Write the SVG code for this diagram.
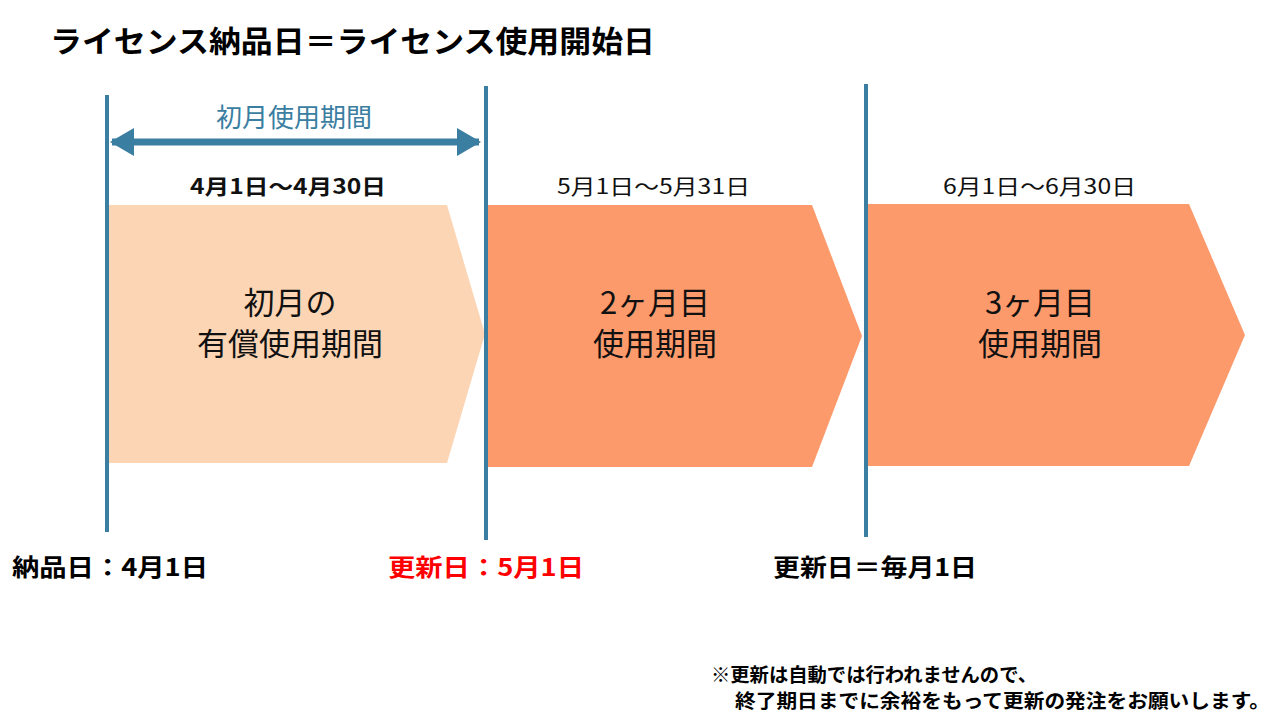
<svg xmlns="http://www.w3.org/2000/svg" width="1280" height="720" viewBox="0 0 1280 720">
<style>
text{font-family:"Noto Sans CJK JP","Noto Sans",sans-serif;}
.b{font-weight:bold;}
.vl{stroke:#3A7EA1;stroke-width:4;}
.big{font-size:31px;fill:#111;text-anchor:middle;}
.date{font-size:21px;fill:#111;}
.lab{font-size:24px;font-weight:bold;}
</style>
<defs>
<marker id="ah" viewBox="0 0 24 28" refX="22" refY="14" markerWidth="24" markerHeight="28" markerUnits="userSpaceOnUse" orient="auto-start-reverse">
<path d="M0,0 L24,14 L0,28 Z" fill="#3A7EA1"/>
</marker>
</defs>
<rect width="1280" height="720" fill="#fff"/>
<text class="b" x="50" y="52" font-size="30" textLength="605" lengthAdjust="spacingAndGlyphs" fill="#000">ライセンス納品日＝ライセンス使用開始日</text>

<g id="period1">
<polygon points="108,205 447,205 485,334 447,463 108,463" fill="#FCD5B5"/>
<text class="big" x="290" y="314">初月の</text>
<text class="big" x="290" y="355">有償使用期間</text>
<text class="date b" x="190" y="194" textLength="196" lengthAdjust="spacingAndGlyphs">4月1日～4月30日</text>
</g>
<g id="period2">
<polygon points="488,205 812,205 862,336 812,467 488,467" fill="#FD9A6C"/>
<text class="big" x="655" y="314">2ヶ月目</text>
<text class="big" x="655" y="355">使用期間</text>
<text class="date" x="557" y="194" textLength="193" lengthAdjust="spacingAndGlyphs">5月1日～5月31日</text>
</g>
<g id="period3">
<polygon points="868,204 1189,204 1245,335 1189,466 868,466" fill="#FD9A6C"/>
<text class="big" x="1040" y="314">3ヶ月目</text>
<text class="big" x="1040" y="355">使用期間</text>
<text class="date" x="943" y="194" textLength="193" lengthAdjust="spacingAndGlyphs">6月1日～6月30日</text>
</g>

<g id="connectors">
<line class="vl" x1="107" y1="95" x2="107" y2="532"/>
<line class="vl" x1="486" y1="86" x2="486" y2="540"/>
<line class="vl" x1="866" y1="84" x2="866" y2="537"/>
<line x1="112" y1="142" x2="479" y2="142" stroke="#3A7EA1" stroke-width="7" marker-start="url(#ah)" marker-end="url(#ah)"/>
</g>
<g id="arrowlabel">
<text x="294" y="127" font-size="26" fill="#3A7EA1" text-anchor="middle">初月使用期間</text>
</g>

<g id="labels">
<text class="lab" x="12" y="576" textLength="196" lengthAdjust="spacingAndGlyphs" fill="#000">納品日：4月1日</text>
<text class="lab" x="388" y="576" textLength="196" lengthAdjust="spacingAndGlyphs" fill="#FF0000">更新日：5月1日</text>
<text class="lab" x="773" y="576" textLength="204" lengthAdjust="spacingAndGlyphs" fill="#000">更新日＝毎月1日</text>
</g>
<g id="note">
<text class="b" x="711" y="682" font-size="19" textLength="326" lengthAdjust="spacingAndGlyphs" fill="#000">※更新は自動では行われませんので、</text>
<text class="b" x="735" y="708" font-size="19" textLength="535" lengthAdjust="spacingAndGlyphs" fill="#000">終了期日までに余裕をもって更新の発注をお願いします。</text>
</g>
</svg>
